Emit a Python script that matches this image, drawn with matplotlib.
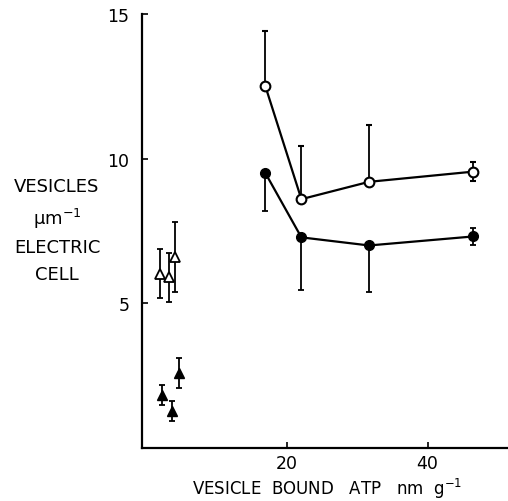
import matplotlib
matplotlib.use("Agg")
import matplotlib.pyplot as plt
import numpy as np

# Circles (right group)
atp = [17.0, 22.1, 31.7, 46.4]
open_circ = [12.5, 8.6, 9.2, 9.55]
open_err_lo = [0.0, 0.0, 0.0, 0.33]
open_err_hi = [1.9, 1.85, 1.95, 0.32]
fill_circ = [9.5, 7.28, 7.0, 7.31]
fill_err_lo = [1.3, 1.83, 1.62, 0.31]
fill_err_hi = [0.0, 0.0, 0.0, 0.31]

# Triangles (left group)
tri_open_x = [2.0, 3.3, 4.25]
tri_open_y = [6.03, 5.9, 6.6]
tri_open_err = [0.85, 0.85, 1.2]
tri_fill_x = [2.3, 3.7, 4.7]
tri_fill_y = [1.83, 1.28, 2.59]
tri_fill_err = [0.35, 0.35, 0.53]

xticks = [20, 40]
yticks = [5, 10, 15]

fig = plt.figure(figsize=(5.08, 5.02), dpi=100)
ax = fig.add_axes([142/508, 53/502, 366/508, 434/502])

ebkw = dict(ecolor='black', elinewidth=1.3, capsize=2.5, capthick=1.3)

ax.errorbar(atp, open_circ, yerr=[open_err_lo, open_err_hi], fmt='-o', color='black',
            mfc='white', mec='black', mew=1.5, ms=7, lw=1.6, **ebkw)
ax.errorbar(atp, fill_circ, yerr=[fill_err_lo, fill_err_hi], fmt='-o', color='black',
            mfc='black', mec='black', ms=7, lw=1.6, **ebkw)
ax.errorbar(tri_open_x, tri_open_y, yerr=tri_open_err, fmt='^', color='black',
            mfc='white', mec='black', mew=1.3, ms=7.5, **ebkw)
ax.errorbar(tri_fill_x, tri_fill_y, yerr=tri_fill_err, fmt='^', color='black',
            mfc='black', mec='black', ms=6.5, **ebkw)

ax.set_xlim(-0.5, 51.4)
ax.set_ylim(0, 15)
ax.set_xticks(xticks)
ax.set_yticks(yticks)
ax.tick_params(direction='in', length=4, width=1.2, labelsize=12.5)
ax.tick_params(axis='x', pad=4)
ax.tick_params(axis='y', pad=9)
for s in ['top', 'right']:
    ax.spines[s].set_visible(False)
for s in ['left', 'bottom']:
    ax.spines[s].set_linewidth(1.6)

fig.text(327/508, 1 - 489/502, 'VESICLE  BOUND   ATP   nm  g$^{-1}$', ha='center', va='center',
         fontsize=12)
fig.text(57/508, 1 - 231/502, 'VESICLES\nμm$^{-1}$\nELECTRIC\nCELL', ha='center', va='center',
         fontsize=13, linespacing=1.6)

fig.savefig('out.png', dpi=100)
